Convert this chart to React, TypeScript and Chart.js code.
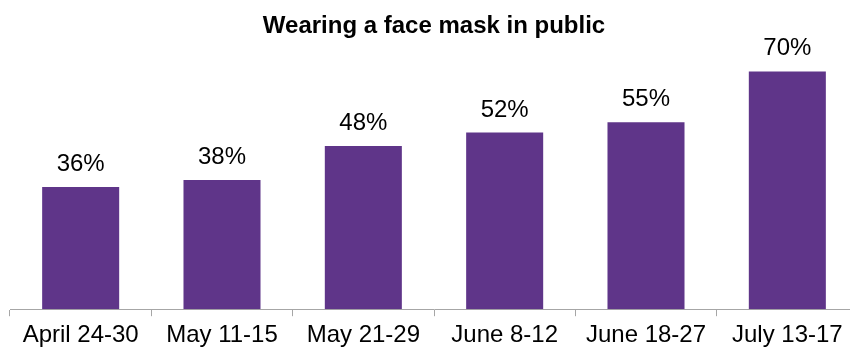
import React, { useEffect, useRef } from "react";
import { Chart, registerables } from "chart.js";

Chart.register(...registerables);

const categories = ["April 24-30", "May 11-15", "May 21-29", "June 8-12", "June 18-27", "July 13-17"];
const values = [36, 38, 48, 52, 55, 70];
const titleText = "Wearing a face mask in public";

const FONT = "'Liberation Sans', Arial, sans-serif";

const valueLabels = {
  id: "valueLabels",
  afterDatasetsDraw(chart: any) {
    const ctx = chart.ctx;
    const meta = chart.getDatasetMeta(0);
    ctx.save();
    ctx.font = `24px ${FONT}`;
    ctx.fillStyle = "#000";
    ctx.textAlign = "center";
    ctx.textBaseline = "alphabetic";
    meta.data.forEach((bar: any, i: number) => {
      ctx.fillText(`${values[i]}%`, bar.x, bar.y - 16);
    });
    ctx.restore();
  },
};

export default function App() {
  const ref = useRef<HTMLCanvasElement>(null);
  useEffect(() => {
    if (!ref.current) return;
    const chart = new Chart(ref.current, {
      type: "bar",
      data: {
        labels: categories,
        datasets: [
          {
            data: values,
            backgroundColor: "#5f3589",
            categoryPercentage: 1,
            barPercentage: 0.545,
          },
        ],
      },
      options: {
        responsive: false,
        animation: false,
        layout: { padding: { left: 10, right: 24, top: 0, bottom: 0 } },
        plugins: {
          legend: { display: false },
          tooltip: { enabled: false },
          title: {
            display: true,
            text: titleText,
            color: "#000",
            font: { family: FONT, size: 24, weight: "bold" },
            padding: { top: 12, bottom: 0 },
          },
        },
        scales: {
          x: {
            grid: {
              display: true,
              drawOnChartArea: false,
              tickLength: 7,
              color: "#a6a6a6",
              offset: true,
            },
            border: { display: true, color: "#a6a6a6", width: 1 },
            ticks: {
              color: "#000",
              font: { family: FONT, size: 24 },
              padding: 5,
              maxRotation: 0,
              autoSkip: false,
            },
          },
          y: {
            display: false,
            min: 0,
            max: 79,
          },
        },
      },
      plugins: [valueLabels],
    });
    return () => chart.destroy();
  }, []);
  return (
    <div style={{ position: "fixed", left: 0, top: 0, width: 850, height: 347, overflow: "hidden", background: "#fff" }}>
      <canvas ref={ref} width={882} height={355} style={{ display: "block" }} />
    </div>
  );
}
